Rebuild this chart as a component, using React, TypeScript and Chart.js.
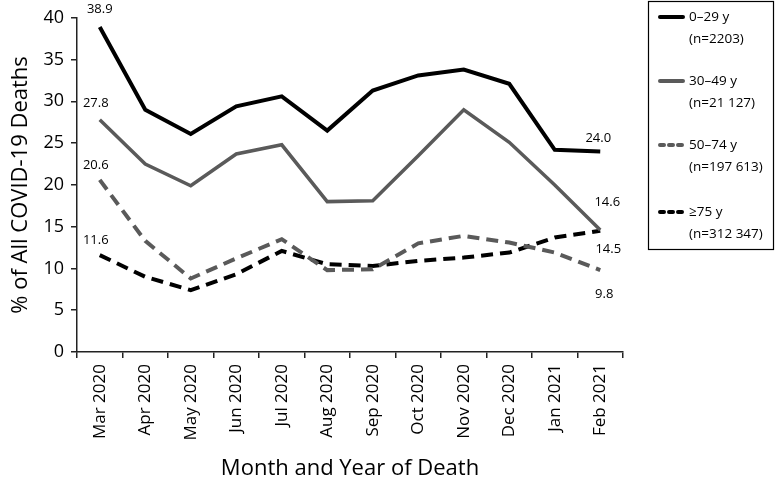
import React, { useEffect, useRef } from 'react';
import { Chart, registerables } from 'chart.js';

Chart.register(...registerables);

const months = ['Mar 2020', 'Apr 2020', 'May 2020', 'Jun 2020', 'Jul 2020', 'Aug 2020', 'Sep 2020', 'Oct 2020', 'Nov 2020', 'Dec 2020', 'Jan 2021', 'Feb 2021'];
const seriesNames = ['0–29 y', '30–49 y', '50–74 y', '≥75 y'];
const seriesCounts = ['(n=2203)', '(n=21 127)', '(n=197 613)', '(n=312 347)'];
const age0to29 = [38.9, 29.0, 26.1, 29.4, 30.6, 26.5, 31.3, 33.1, 33.8, 32.1, 24.2, 24.0];
const age30to49 = [27.8, 22.5, 19.9, 23.7, 24.8, 18.0, 18.1, 23.5, 29.0, 25.1, 20.0, 14.6];
const age50to74 = [20.6, 13.3, 8.8, 11.2, 13.5, 9.8, 9.9, 13.0, 13.9, 13.1, 11.9, 9.8];
const age75plus = [11.6, 9.0, 7.4, 9.3, 12.1, 10.5, 10.3, 10.9, 11.3, 11.9, 13.7, 14.5];
const yTickValues = [0, 5, 10, 15, 20, 25, 30, 35, 40];
const xTitle = 'Month and Year of Death';
const yTitle = '% of All COVID-19 Deaths';

const FONT = "'Open Sans', sans-serif";
const BLACK = '#000000';
const GRAY = '#5a5a5a';

// value labels: [datasetIndex, pointIndex, dx, dy]
const valueLabels: [number, number, number, number][] = [
  [0, 0, 0, -18],
  [1, 0, -4, -16],
  [2, 0, -4, -15],
  [3, 0, -4, -15],
  [0, 11, -2, -13],
  [1, 11, 7, -28],
  [3, 11, 8, 18],
  [2, 11, 4, 24],
];

const labelsPlugin = {
  id: 'valueLabels',
  afterDatasetsDraw(chart: any) {
    const ctx = chart.ctx;
    ctx.save();
    ctx.font = `13px ${FONT}`;
    ctx.fillStyle = '#000';
    ctx.textAlign = 'center';
    ctx.textBaseline = 'middle';
    for (const [d, i, dx, dy] of valueLabels) {
      const meta = chart.getDatasetMeta(d);
      const pt = meta.data[i];
      const v = chart.data.datasets[d].data[i] as number;
      ctx.fillText(v.toFixed(1), pt.x + dx, pt.y + dy);
    }
    ctx.restore();
  },
};

const legendPlugin = {
  id: 'boxLegend',
  afterDraw(chart: any) {
    const ctx = chart.ctx;
    const bx = 648.5, by = 1.5, bw = 125, bh = 248;
    ctx.save();
    ctx.strokeStyle = '#000';
    ctx.lineWidth = 1.2;
    ctx.strokeRect(bx, by, bw, bh);
    const rowY = [17, 81, 145, 212];
    chart.data.datasets.forEach((ds: any, k: number) => {
      const y = rowY[k];
      const dashed = ds.borderDash && ds.borderDash.length > 0;
      ctx.beginPath();
      ctx.strokeStyle = ds.borderColor;
      ctx.lineWidth = 4;
      ctx.lineCap = 'round';
      ctx.setLineDash(dashed ? [4, 5] : []);
      ctx.moveTo(660, y);
      ctx.lineTo(683, y);
      ctx.stroke();
      ctx.setLineDash([]);
      ctx.fillStyle = '#000';
      ctx.font = `13.5px ${FONT}`;
      ctx.textAlign = 'left';
      ctx.textBaseline = 'middle';
      ctx.fillText(seriesNames[k], 689, y);
      ctx.fillText(seriesCounts[k], 689, y + 22);
    });
    ctx.restore();
  },
};

export default function App() {
  const ref = useRef<HTMLCanvasElement>(null);
  useEffect(() => {
    if (!ref.current) return;
    const chart = new Chart(ref.current, {
      type: 'line',
      data: {
        labels: months,
        datasets: [
          { label: seriesNames[0], data: age0to29, borderColor: BLACK, borderWidth: 4, pointRadius: 0, tension: 0, borderJoinStyle: 'miter' },
          { label: seriesNames[1], data: age30to49, borderColor: GRAY, borderWidth: 3.5, pointRadius: 0, tension: 0, borderJoinStyle: 'miter' },
          { label: seriesNames[2], data: age50to74, borderColor: GRAY, borderWidth: 4, pointRadius: 0, tension: 0, borderDash: [12, 7], borderCapStyle: 'butt', borderJoinStyle: 'miter' },
          { label: seriesNames[3], data: age75plus, borderColor: BLACK, borderWidth: 4, pointRadius: 0, tension: 0, borderDash: [12, 7], borderCapStyle: 'butt', borderJoinStyle: 'miter' },
        ],
      },
      options: {
        responsive: false,
        animation: false,
        layout: { padding: { top: 16, right: 152, left: 0, bottom: 0 } },
        plugins: { legend: { display: false }, tooltip: { enabled: false } },
        scales: {
          x: {
            type: 'category',
            offset: true,
            border: { display: true, color: '#222', width: 1.5 },
            grid: { offset: true, drawOnChartArea: false, drawTicks: true, tickLength: 6, color: '#222', lineWidth: 1.5 },
            ticks: { autoSkip: false, minRotation: 90, maxRotation: 90, color: '#000', font: { family: FONT, size: 17 }, padding: 6 },
            title: { display: true, text: xTitle, color: '#000', font: { family: FONT, size: 22 }, padding: { top: 4, bottom: 4 } },
            afterFit: (s: any) => { s.height = 134; },
          },
          y: {
            min: 0,
            max: 40,
            afterBuildTicks: (s: any) => { s.ticks = yTickValues.map((v) => ({ value: v })); },
            border: { display: true, color: '#222', width: 1.5 },
            grid: { drawOnChartArea: false, drawTicks: true, tickLength: 6, color: '#222', lineWidth: 1.5 },
            ticks: { color: '#000', font: { family: FONT, size: 18 }, padding: 7 },
            title: { display: true, text: yTitle, color: '#000', font: { family: FONT, size: 22 }, padding: { top: 8, bottom: 4 } },
            afterFit: (s: any) => { s.width = 77; },
          },
        },
      },
      plugins: [labelsPlugin, legendPlugin],
    });
    return () => chart.destroy();
  }, []);
  return (
    <div style={{ position: 'absolute', left: 0, top: 0, width: 775, height: 486, background: '#fff' }}>
      <canvas ref={ref} width={775} height={486} />
    </div>
  );
}
